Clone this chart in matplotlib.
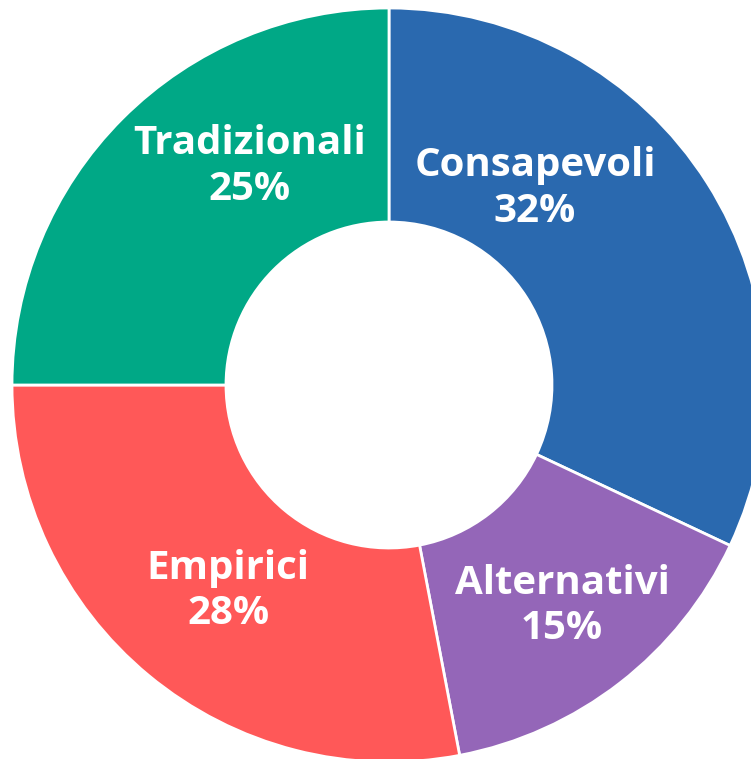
import matplotlib
matplotlib.use("Agg")
from matplotlib import pyplot as plt

labels = ["Consapevoli", "Alternativi", "Empirici", "Tradizionali"]
shares = [32, 15, 28, 25]
colors = ["#2a69af", "#9466b8", "#ff5858", "#00a886"]
# where each label block sits (data units, radius 1 = outer edge)
label_xy = [(0.387, 0.522), (0.459, -0.586), (-0.427, -0.546), (-0.369, 0.58)]

W, H = 751, 759
cx, cy, r = 389, 385, 377

fig = plt.figure(figsize=(W / 100, H / 100), dpi=100)
ax = fig.add_axes([(cx - r) / W, (H - cy - r) / H, 2 * r / W, 2 * r / H])

ax.pie(shares, colors=colors, startangle=90, counterclock=False,
       radius=1.0,
       wedgeprops=dict(width=1 - 163 / 377, edgecolor="white", linewidth=2))

for name, val, (x, y) in zip(labels, shares, label_xy):
    ax.text(x, y, "%s\n%d%%" % (name, val), ha="center", va="center",
            color="white", fontsize=29, fontweight="bold", family="Open Sans",
            linespacing=1.22)

ax.set_xlim(-1, 1)
ax.set_ylim(-1, 1)
ax.set_aspect("auto")
ax.axis("off")

fig.savefig("out.png", dpi=100)
